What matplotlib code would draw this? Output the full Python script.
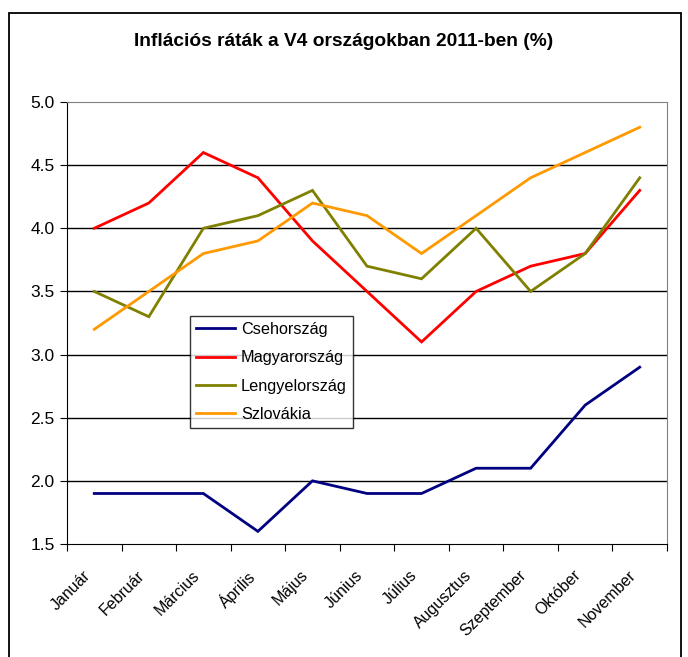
import matplotlib
matplotlib.use("Agg")
import matplotlib.pyplot as plt
from matplotlib.patches import Rectangle
from matplotlib.transforms import ScaledTranslation

plt.rcParams['font.family'] = ['Liberation Sans', 'DejaVu Sans']

months = ["Január", "Február", "Március", "Április", "Május", "Június",
          "Július", "Augusztus", "Szeptember", "Október", "November"]
cseh = [1.9, 1.9, 1.9, 1.6, 2.0, 1.9, 1.9, 2.1, 2.1, 2.6, 2.9]
magyar = [4.0, 4.2, 4.6, 4.4, 3.9, 3.5, 3.1, 3.5, 3.7, 3.8, 4.3]
lengyel = [3.5, 3.3, 4.0, 4.1, 4.3, 3.7, 3.6, 4.0, 3.5, 3.8, 4.4]
szlovak = [3.2, 3.5, 3.8, 3.9, 4.2, 4.1, 3.8, 4.1, 4.4, 4.6, 4.8]

series = [("Csehország", cseh, "#000080"),
          ("Magyarország", magyar, "#FF0000"),
          ("Lengyelország", lengyel, "#808000"),
          ("Szlovákia", szlovak, "#FF9900")]

yticks = [1.5, 2.0, 2.5, 3.0, 3.5, 4.0, 4.5, 5.0]

fig = plt.figure(figsize=(6.88, 6.57), dpi=100)
ax = fig.add_axes([67 / 688, 1 - 544 / 657, 600 / 688, 442 / 657])

x = list(range(len(months)))
for name, vals, col in series:
    ax.plot(x, vals, color=col, lw=2.0, label=name, solid_joinstyle="miter")

ax.set_xlim(-0.5, len(months) - 0.5)
ax.set_ylim(1.5, 5.0)
ax.set_yticks(yticks)
ax.set_yticklabels([f"{v:.1f}" for v in yticks], fontsize=12.5)
for v in yticks[1:-1]:
    ax.axhline(v, color="black", lw=1.0, zorder=0)

# category ticks sit on the cell boundaries, labels in the middle
ax.set_xticks([i - 0.5 for i in range(len(months) + 1)])
ax.set_xticklabels([])
ax.set_xticks(x, minor=True)
ax.set_xticklabels(months, minor=True, rotation=45, ha="right",
                   rotation_mode="anchor", fontsize=11.5)
ax.tick_params(axis="x", which="minor", length=0, pad=17)
ax.tick_params(axis="x", which="major", length=5, direction="out")
ax.tick_params(axis="y", length=5, direction="out", pad=4)
shift = ScaledTranslation(-8.5 / 72, 0, fig.dpi_scale_trans)
for lab in ax.get_xticklabels(minor=True):
    lab.set_transform(lab.get_transform() + shift)

for s in ("top", "right"):
    ax.spines[s].set_color("#808080")
ax.spines["left"].set_color("black")
ax.spines["bottom"].set_color("black")

leg = ax.legend(loc="upper left", bbox_to_anchor=(0.205, 0.516),
                fontsize=11.7, frameon=True, fancybox=False,
                handlelength=2.4, handletextpad=0.35, borderpad=0.38,
                labelspacing=0.82, borderaxespad=0)
leg.get_frame().set_edgecolor("black")
leg.get_frame().set_linewidth(1.0)

fig.text(0.5, 1 - 42 / 657, "Inflációs ráták a V4 országokban 2011-ben (%)",
         ha="center", va="center", fontsize=13.75, fontweight="bold")

fig.patches.append(Rectangle((9 / 688, -0.05), 672 / 688, 1.05 - 13 / 657,
                             transform=fig.transFigure, fill=False,
                             edgecolor="black", lw=1.3))

fig.savefig("out.png", dpi=100)
